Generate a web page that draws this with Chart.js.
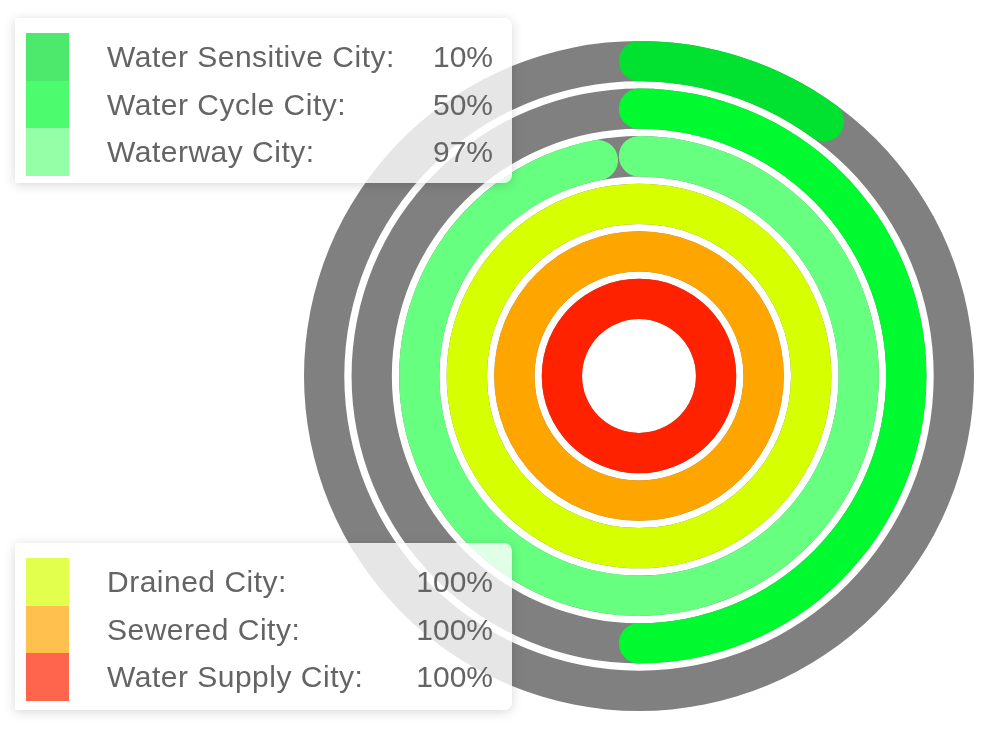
<!DOCTYPE html>
<html>
<head>
<meta charset="utf-8">
<script src="https://cdn.jsdelivr.net/npm/chart.js@4.4.1/dist/chart.umd.min.js"></script>
<style>
  html, body { margin: 0; padding: 0; background: #fff; }
  body { width: 1000px; height: 746px; position: relative; overflow: hidden; font-family: "Liberation Sans", Arial, sans-serif; }
  #wrap { position: absolute; left: 304px; top: 41px; width: 670px; height: 670px; }
  .box { position: absolute; left: 15px; width: 497px; background: rgba(255,255,255,0.8);
         border-radius: 0 8px 8px 0; box-shadow: 0 2px 12px rgba(0,0,0,0.16); }
  .row { position: relative; height: 47.5px; line-height: 47.5px; font-size: 30px; color: #646464; }
  .sw { position: absolute; left: 11px; top: 0; width: 43px; height: 47.5px; }
  .lbl { position: absolute; left: 92px; letter-spacing: 0.5px; }
  .val { position: absolute; right: 19px; }
  .rows { position: absolute; left: 0; right: 0; top: 15px; }
</style>
</head>
<body>
<div id="wrap"><canvas id="myChart"></canvas></div>
<div class="box" id="topBox" style="top:18px;height:165px"><div class="rows"></div></div>
<div class="box" id="bottomBox" style="top:543px;height:167px"><div class="rows"></div></div>
<script>
// rings, outermost first
var cities = ["Water Sensitive City", "Water Cycle City", "Waterway City", "Drained City", "Sewered City", "Water Supply City"];
var percent = [10, 50, 97, 100, 100, 100];
var ringColors = ["#00e22f", "#00fa30", "#66ff80", "#d6ff00", "#ffa500", "#ff2200"];
var legendColors = ["#4de96d", "#4dfc6e", "#94ffa6", "#e2ff4d", "#ffc04d", "#ff644d"];
var trackColor = "#808080";
var gapWeight = 0.18;

var datasets = [];
cities.forEach(function (name, i) {
  if (i > 0) {
    // thin empty ring between the gauges
    datasets.push({ data: [1], backgroundColor: "rgba(0,0,0,0)", borderWidth: 0, weight: gapWeight, spacer: true });
  }
  datasets.push({
    label: name,
    data: [percent[i], 100 - percent[i]],
    backgroundColor: [ringColors[i], "rgba(0,0,0,0)"],
    borderWidth: 0,
    borderRadius: percent[i] < 100 ? 100 : 0,
    weight: 1,
    pct: percent[i]
  });
});

// grey track under every ring + round caps sticking out past the arc ends
var gaugePlugin = {
  id: "gauge",
  beforeDatasetsDraw: function (chart) {
    var ctx = chart.ctx;
    chart.data.datasets.forEach(function (ds, i) {
      if (ds.spacer) return;
      var arc = chart.getDatasetMeta(i).data[0];
      ctx.save();
      ctx.beginPath();
      ctx.arc(arc.x, arc.y, arc.outerRadius, 0, Math.PI * 2);
      ctx.arc(arc.x, arc.y, arc.innerRadius, Math.PI * 2, 0, true);
      ctx.fillStyle = trackColor;
      ctx.fill();
      ctx.restore();
    });
  },
  beforeDatasetDraw: function (chart, args) {
    var ds = chart.data.datasets[args.index];
    if (ds.spacer || ds.pct >= 100) return;
    var arc = args.meta.data[0];
    var half = (arc.outerRadius - arc.innerRadius) / 2;
    var cap = half / (arc.innerRadius + half);
    arc._cap = cap;
    arc.startAngle -= cap;
    arc.endAngle += cap;
  },
  afterDatasetDraw: function (chart, args) {
    var arc = args.meta.data[0];
    if (arc && arc._cap) {
      arc.startAngle += arc._cap;
      arc.endAngle -= arc._cap;
      arc._cap = 0;
    }
  }
};

var ctx = document.getElementById("myChart");
var myChart = new Chart(ctx, {
  type: "doughnut",
  data: { labels: ["value", "rest"], datasets: datasets },
  options: {
    responsive: true,
    maintainAspectRatio: false,
    animation: false,
    cutout: "17%",
    layout: { padding: 0 },
    plugins: { legend: { display: false }, tooltip: { enabled: false } }
  },
  plugins: [gaugePlugin]
});

// the two legend boxes
function fillBox(id, from, to) {
  var holder = document.querySelector("#" + id + " .rows");
  for (var i = from; i < to; i++) {
    var row = document.createElement("div");
    row.className = "row";
    row.innerHTML = '<span class="sw" style="background:' + legendColors[i] + '"></span>' +
      '<span class="lbl">' + cities[i] + ':</span><span class="val">' + percent[i] + '%</span>';
    holder.appendChild(row);
  }
}
fillBox("topBox", 0, 3);
fillBox("bottomBox", 3, 6);
</script>
</body>
</html>
